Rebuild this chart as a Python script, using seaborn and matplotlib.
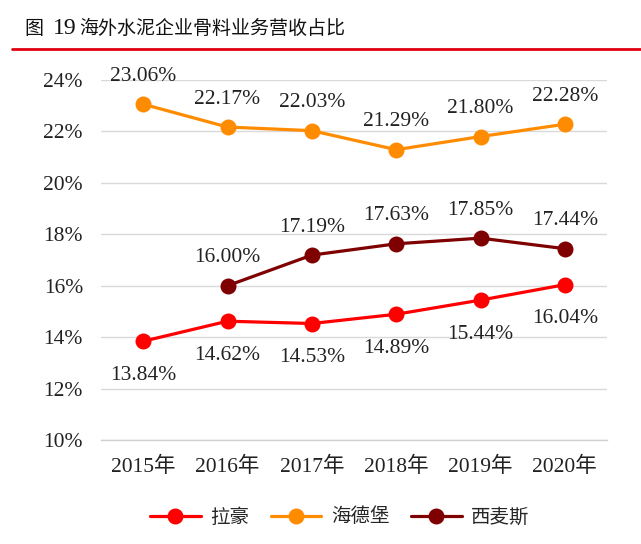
import numpy as np
import pandas as pd
import matplotlib
matplotlib.use("Agg")
import matplotlib.pyplot as plt
from matplotlib.ticker import FixedLocator
import seaborn as sns

years = ["2015年", "2016年", "2017年", "2018年", "2019年", "2020年"]
lafarge = [13.84, 14.62, 14.53, 14.89, 15.44, 16.04]
heidelberg = [23.06, 22.17, 22.03, 21.29, 21.80, 22.28]
cemex = [np.nan, 16.00, 17.19, 17.63, 17.85, 17.44]
series_names = ["拉豪", "海德堡", "西麦斯"]
colors = ["#FF0000", "#FF8C00", "#7F0000"]
title_parts = ["图", "19", "海外水泥企业骨料业务营收占比"]
yticks = [10, 12, 14, 16, 18, 20, 22, 24]

sns.set_theme(style="white")
plt.rcParams["font.family"] = ["Liberation Serif", "Noto Sans CJK SC", "DejaVu Sans"]

rows = []
for name, vals in zip(series_names, [lafarge, heidelberg, cemex]):
    for i, (y, v) in enumerate(zip(years, vals)):
        rows.append({"年份": y, "pos": i, "值": v, "公司": name})
df = pd.DataFrame(rows)

fig = plt.figure(figsize=(6.41, 5.44), dpi=100)
ax = fig.add_axes([101/641, 1-440/544, (607-101)/641, (440-80)/544])

sns.lineplot(data=df.dropna(), x="pos", y="值", hue="公司", hue_order=series_names,
             palette=colors, marker="o", markersize=11.5, linewidth=2.3,
             markeredgewidth=0, ax=ax, legend=True)

FS = 15.5
ax.set_xlim(-0.5, 5.5)
ax.set_ylim(10, 24)
ax.set_yticks(yticks)
ax.set_yticklabels([f"{t}%" for t in yticks], fontsize=FS, color="#222222")
ax.set_xticks(range(len(years)))
ax.set_xticklabels(years, fontsize=FS, color="#222222")
ax.xaxis.set_minor_locator(FixedLocator(np.arange(-0.5, 6, 1)))
ax.tick_params(axis="x", which="major", length=0, pad=12)
ax.tick_params(axis="x", which="minor", length=5, width=1, color="#d0d0d0", direction="out")
ax.tick_params(axis="y", length=0, pad=13)
ax.set_xlabel("")
ax.set_ylabel("")
ax.grid(axis="y", color="#d9d9d9", linewidth=1)
ax.grid(axis="x", visible=False)
for s in ["left", "right", "top"]:
    ax.spines[s].set_visible(False)
ax.spines["bottom"].set_color("#d0d0d0")
ax.spines["bottom"].set_linewidth(1)
ax.set_axisbelow(True)

# data labels
for name, vals, off in zip(series_names, [lafarge, heidelberg, cemex], [-34, 28, 28]):
    for i, v in enumerate(vals):
        if np.isnan(v):
            continue
        ax.annotate(f"{v:.2f}%", (i, v), xytext=(0, off), textcoords="offset pixels",
                    ha="center", va="center", fontsize=FS, color="#222222")

leg = ax.legend(loc="center", bbox_to_anchor=(340/641, 1-517/544), bbox_transform=fig.transFigure,
                ncol=3, frameon=False, handlelength=2.6, columnspacing=1.1, handletextpad=0.5,
                prop={"family": ["Noto Sans CJK SC"], "size": 14})
for h in leg.legend_handles:
    h.set_markersize(11.5)

tx = [24, 53, 79]
for x, part in zip(tx, title_parts):
    fam = ["Liberation Serif"] if part.isdigit() else ["Noto Sans CJK SC"]
    fig.text(x/641, 1-28/544, part, fontsize=13.7 if not part.isdigit() else 17, family=fam,
             va="center", ha="left", color="#111111")
fig.add_artist(plt.Line2D([12/641, 1.0], [1-49/544, 1-49/544], color="#E00010", linewidth=2,
                          transform=fig.transFigure))

fig.savefig("out.png", dpi=100)
